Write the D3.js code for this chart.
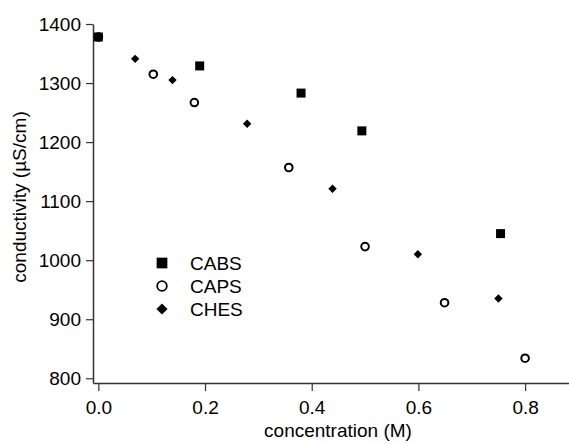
<!DOCTYPE html>
<html>
<head>
<meta charset="utf-8">
<script src="https://cdn.jsdelivr.net/npm/d3@7"></script>
<style>
  body { margin: 0; background: #fff; }
  svg { display: block; }
  text { font-family: "Liberation Sans", Arial, Helvetica, sans-serif; fill: #000; }
</style>
</head>
<body>
<div id="chart"></div>
<script>
const xTicks = [0.0, 0.2, 0.4, 0.6, 0.8];
const yTicks = [800, 900, 1000, 1100, 1200, 1300, 1400];

const cabsX = [0.0, 0.19, 0.38, 0.494, 0.754];
const cabsY = [1378, 1329, 1283, 1219, 1045];

const capsX = [0.0, 0.103, 0.18, 0.357, 0.5, 0.649, 0.8];
const capsY = [1378, 1315, 1267, 1157, 1023, 928, 834];

const chesX = [0.0, 0.069, 0.139, 0.279, 0.439, 0.599, 0.75];
const chesY = [1378, 1341, 1305, 1231, 1121, 1010, 935];

const seriesNames = ["CABS", "CAPS", "CHES"];

const width = 569, height = 444;

const svg = d3.select('#chart')
    .append('svg')
    .attr('width', width)
    .attr('height', height);

const x = d3.scaleLinear().domain([-0.01, 0.8823]).range([93, 569]);
const y = d3.scaleLinear().domain([792, 1400]).range([383, 24]);

// axes
const yAxis = svg.append('g')
    .attr('transform', 'translate(93,0)')
    .call(d3.axisLeft(y).tickValues(yTicks).tickSize(7).tickSizeOuter(0).tickPadding(5).tickFormat(d3.format('d')));

const xAxis = svg.append('g')
    .attr('transform', 'translate(0,383)')
    .call(d3.axisBottom(x).tickValues(xTicks).tickSize(8).tickSizeOuter(0).tickPadding(10).tickFormat(d3.format('.1f')));

[xAxis, yAxis].forEach(ax => {
    ax.select('.domain').attr('stroke', '#333').attr('stroke-width', 1.5);
    ax.selectAll('.tick line').attr('stroke', '#333').attr('stroke-width', 1.2);
    ax.selectAll('.tick text')
        .style('font-size', '19px')
        .style('font-family', '"Liberation Sans", Arial, sans-serif')
        .attr('fill', '#000');
});

svg.append('text')
    .attr('x', 338)
    .attr('y', 437)
    .attr('text-anchor', 'middle')
    .style('font-size', '19px')
    .text('concentration (M)');

svg.append('text')
    .attr('transform', 'translate(26,197) rotate(-90)')
    .attr('text-anchor', 'middle')
    .style('font-size', '19px')
    .text('conductivity (\u00B5S/cm)');

// markers
const sq = d3.symbol().type(d3.symbolSquare);
const dia = d3.symbol().type(d3.symbolDiamond2);

const plot = svg.append('g');

plot.selectAll('.caps')
    .data(capsX.map((d, i) => [d, capsY[i]]))
    .enter().append('circle')
    .attr('class', 'caps')
    .attr('cx', d => x(d[0]))
    .attr('cy', d => y(d[1]))
    .attr('r', 3.8)
    .attr('fill', '#fff')
    .attr('stroke', '#000')
    .attr('stroke-width', 2);

plot.selectAll('.ches')
    .data(chesX.map((d, i) => [d, chesY[i]]))
    .enter().append('path')
    .attr('class', 'ches')
    .attr('transform', d => `translate(${x(d[0])},${y(d[1])})`)
    .attr('d', dia.size(45))
    .attr('fill', '#000');

plot.selectAll('.cabs')
    .data(cabsX.map((d, i) => [d, cabsY[i]]))
    .enter().append('path')
    .attr('class', 'cabs')
    .attr('transform', d => `translate(${x(d[0])},${y(d[1])})`)
    .attr('d', sq.size(81))
    .attr('fill', '#000');

// legend
const legend = svg.append('g');
const legendY = [263, 286, 309];

legend.append('path')
    .attr('transform', `translate(162,${legendY[0]})`)
    .attr('d', sq.size(115))
    .attr('fill', '#000');

legend.append('circle')
    .attr('cx', 162)
    .attr('cy', legendY[1])
    .attr('r', 4.8)
    .attr('fill', '#fff')
    .attr('stroke', '#000')
    .attr('stroke-width', 1.8);

legend.append('path')
    .attr('transform', `translate(162,${legendY[2]})`)
    .attr('d', dia.size(80))
    .attr('fill', '#000');

legend.selectAll('.lab')
    .data(seriesNames)
    .enter().append('text')
    .attr('class', 'lab')
    .attr('x', 190)
    .attr('y', (d, i) => legendY[i])
    .attr('dy', '0.35em')
    .style('font-size', '19px')
    .text(d => d);
</script>
</body>
</html>
